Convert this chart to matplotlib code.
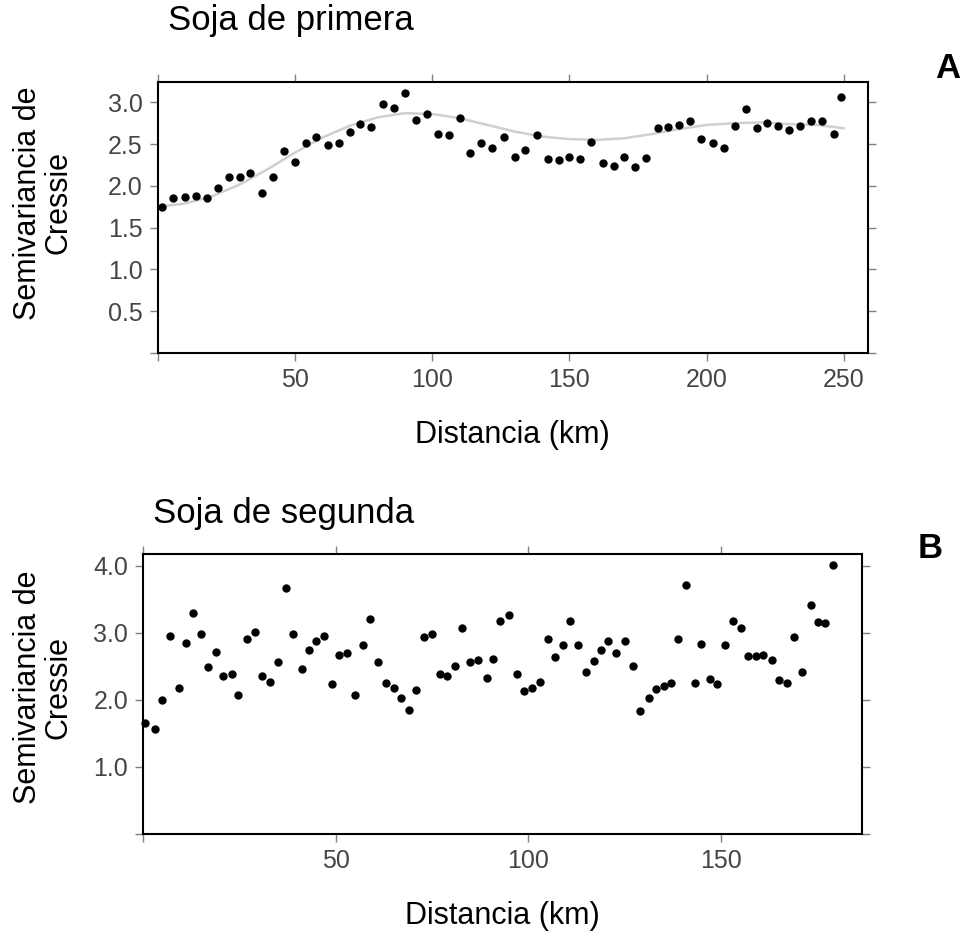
import numpy as np
import matplotlib
matplotlib.use("Agg")
import matplotlib.pyplot as plt


# -----------------------------------------------------------------------------
# Style
# -----------------------------------------------------------------------------
plt.rcParams.update({
    "font.family": "sans-serif",
    "font.sans-serif": ["Liberation Sans", "Arial", "DejaVu Sans"],
    "axes.linewidth": 1.5,
})

# -----------------------------------------------------------------------------
# Data
# -----------------------------------------------------------------------------
# A: Soja de primera
dist_a = [1.3, 5.6, 9.7, 14.0, 18.0, 21.8, 25.8, 29.8, 33.4, 37.8,
          41.8, 45.8, 49.9, 53.9, 57.7, 61.8, 65.9, 70.0, 73.6, 77.5,
          81.9, 86.0, 90.0, 94.1, 97.9, 101.9, 106.0, 110.0, 113.7, 117.8,
          121.8, 126.0, 130.2, 133.7, 138.0, 142.2, 146.2, 149.9, 153.7, 158.0,
          162.3, 166.3, 169.8, 173.8, 177.8, 182.1, 186.0, 190.0, 194.1, 198.1,
          202.2, 206.4, 210.3, 214.3, 218.2, 222.1, 226.0, 230.0, 234.2, 238.2,
          242.2, 246.4, 249.1]
semiv_a = [1.75, 1.85, 1.87, 1.88, 1.85, 1.98, 2.11, 2.11, 2.15, 1.92,
           2.11, 2.42, 2.29, 2.51, 2.59, 2.49, 2.51, 2.65, 2.74, 2.71,
           2.98, 2.93, 3.11, 2.79, 2.86, 2.62, 2.61, 2.81, 2.39, 2.51,
           2.45, 2.58, 2.35, 2.43, 2.61, 2.32, 2.31, 2.35, 2.32, 2.53,
           2.27, 2.24, 2.35, 2.23, 2.33, 2.69, 2.70, 2.73, 2.78, 2.56,
           2.51, 2.45, 2.72, 2.92, 2.69, 2.75, 2.72, 2.67, 2.72, 2.78,
           2.78, 2.62, 3.06]

# smooth trend line drawn in light grey
trend_x_a = [0, 10, 20, 30, 40, 50, 60, 70, 80, 90, 100, 110, 120,
             130, 140, 150, 160, 170, 180, 190, 200, 210, 220, 230, 240, 250]
trend_y_a = [1.75, 1.79, 1.88, 2.02, 2.20, 2.40, 2.58, 2.72, 2.82, 2.87, 2.86,
             2.81, 2.73, 2.65, 2.59, 2.56, 2.55, 2.57, 2.62, 2.68, 2.73, 2.75,
             2.76, 2.74, 2.73, 2.69]

# B: Soja de segunda
dist_b = [0.4, 3.0, 4.9, 7.0, 9.2, 11.0, 12.8, 14.9, 16.8, 19.0,
          20.7, 23.0, 24.7, 26.9, 29.1, 30.9, 32.9, 35.0, 37.1, 38.9,
          41.1, 43.0, 44.8, 46.9, 49.0, 50.8, 52.8, 55.0, 57.1, 58.9,
          61.0, 63.0, 65.1, 66.9, 69.1, 70.8, 72.9, 75.0, 77.0, 79.0,
          81.0, 82.9, 84.9, 86.9, 89.2, 90.9, 92.7, 95.0, 97.0, 98.9,
          101.0, 103.0, 105.0, 106.9, 109.0, 110.8, 113.0, 114.9, 117.1, 118.9,
          120.7, 122.9, 125.0, 127.3, 129.1, 131.3, 133.1, 135.2, 137.1, 138.9,
          141.0, 143.2, 144.9, 147.1, 149.1, 151.2, 153.1, 155.2, 157.0, 159.1,
          161.0, 163.2, 165.0, 167.1, 169.0, 171.2, 173.3, 175.3, 177.1, 179.1]
semiv_b = [1.65, 1.57, 2.00, 2.95, 2.18, 2.85, 3.29, 2.98, 2.49, 2.72,
           2.36, 2.38, 2.07, 2.90, 3.01, 2.35, 2.26, 2.57, 3.66, 2.98,
           2.46, 2.75, 2.87, 2.95, 2.23, 2.67, 2.70, 2.07, 2.82, 3.20,
           2.56, 2.25, 2.18, 2.03, 1.85, 2.15, 2.94, 2.98, 2.38, 2.36,
           2.51, 3.07, 2.57, 2.59, 2.33, 2.61, 3.17, 3.27, 2.38, 2.13,
           2.18, 2.27, 2.91, 2.64, 2.82, 3.17, 2.82, 2.41, 2.58, 2.74,
           2.87, 2.70, 2.88, 2.51, 1.84, 2.03, 2.16, 2.20, 2.25, 2.90,
           3.71, 2.25, 2.83, 2.31, 2.23, 2.82, 3.17, 3.07, 2.65, 2.65,
           2.67, 2.60, 2.30, 2.25, 2.93, 2.41, 3.42, 3.16, 3.14, 4.01]

xticks_a = [0, 50, 100, 150, 200, 250]
yticks_a = [0, 0.5, 1.0, 1.5, 2.0, 2.5, 3.0]
xticks_b = [0, 50, 100, 150]
yticks_b = [0, 1.0, 2.0, 3.0, 4.0]

TICK_COLOR = "#464646"


def style_axes(ax, xticks, yticks):
    ax.set_xticks(xticks)
    ax.set_xticklabels(["" if t == 0 else f"{t:g}" for t in xticks])
    ax.set_yticks(yticks)
    ax.set_yticklabels(["" if t == 0 else f"{t:.1f}" for t in yticks])
    ax.tick_params(direction="out", length=6, width=1.0, color="#808080",
                   labelsize=18, labelcolor=TICK_COLOR, pad=5,
                   top=True, right=True)
    for sp in ax.spines.values():
        sp.set_color("black")


# -----------------------------------------------------------------------------
# Plot
# -----------------------------------------------------------------------------
def main():
    fig = plt.figure(figsize=(9.64, 9.35), dpi=100)

    ax_a = fig.add_axes([0.164, 0.6225, 0.736, 0.2895])
    ax_b = fig.add_axes([0.1487, 0.108, 0.7452, 0.2992])

    # panel A
    ax_a.plot(trend_x_a, trend_y_a, color="#cfcfcf", lw=1.8, zorder=2)
    ax_a.plot(dist_a, semiv_a, "o", color="black", ms=5, clip_on=False, zorder=3)
    ax_a.set_xlim(0, 258.7)
    ax_a.set_ylim(0, 3.24)
    style_axes(ax_a, xticks_a, yticks_a)
    ax_a.set_xlabel("Distancia (km)", fontsize=22, labelpad=20)

    # panel B
    ax_b.plot(dist_b, semiv_b, "o", color="black", ms=5, clip_on=False, zorder=3)
    ax_b.set_xlim(0, 186.6)
    ax_b.set_ylim(0, 4.17)
    style_axes(ax_b, xticks_b, yticks_b)
    ax_b.set_xlabel("Distancia (km)", fontsize=22, labelpad=20)

    # y labels, titles and panel letters
    for yc in (0.783, 0.265):
        fig.text(0.045, yc, "Semivariancia de\nCressie", rotation=90,
                 ha="center", va="center", fontsize=22, linespacing=1.0,
                 multialignment="center")

    fig.text(0.174, 0.968, "Soja de primera", fontsize=25, va="baseline")
    fig.text(0.159, 0.4406, "Soja de segunda", fontsize=25, va="baseline")
    fig.text(0.970, 0.9166, "A", fontsize=25, fontweight="bold", va="baseline")
    fig.text(0.952, 0.403, "B", fontsize=25, fontweight="bold", va="baseline")

    fig.savefig("out.png", dpi=100)
    plt.close(fig)


if __name__ == "__main__":
    main()
